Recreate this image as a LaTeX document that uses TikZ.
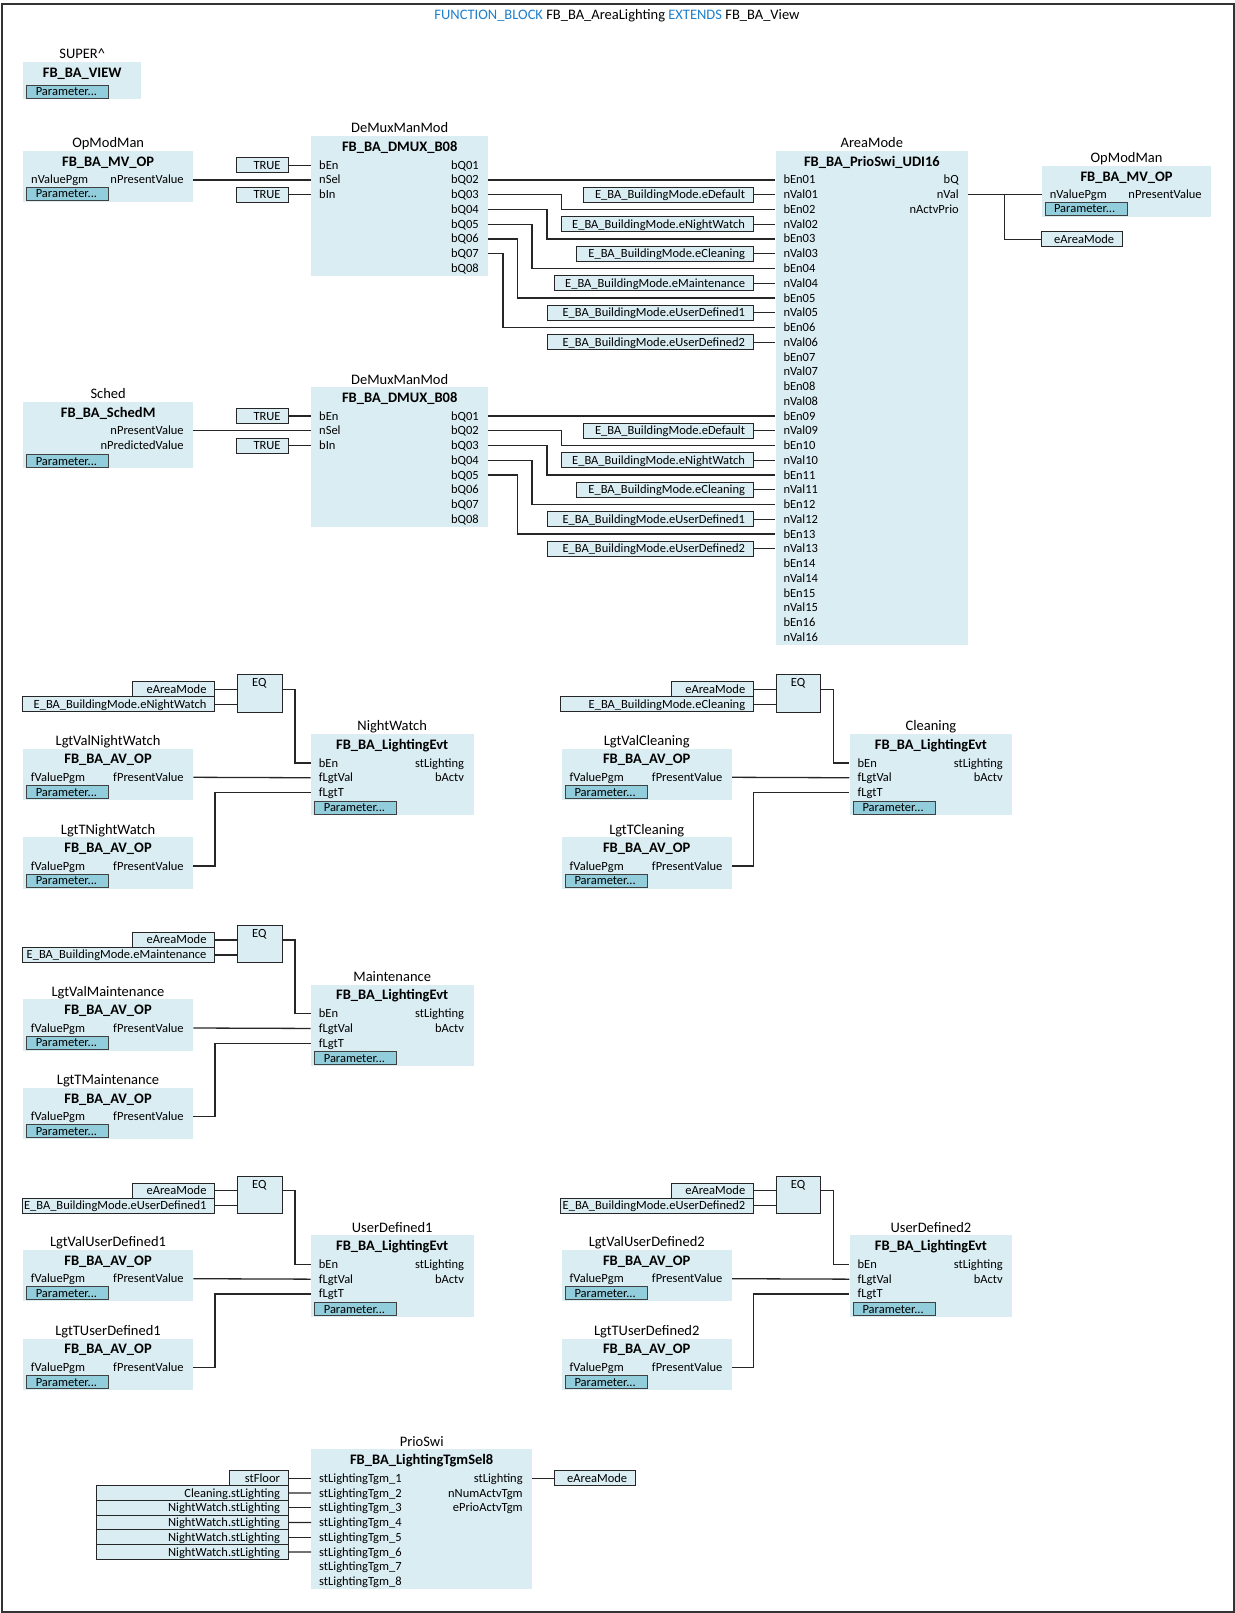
\documentclass[tikz,border=0pt]{standalone}
\usepackage{fontspec}
\setmainfont{Carlito}
\catcode`\_=12
\definecolor{fbfill}{HTML}{DAEDF3}
\definecolor{btnfill}{HTML}{92CDDC}
\definecolor{kwblue}{HTML}{1E7FCB}
\tikzstyle{annot}=[inner sep=0pt,text height=10pt,text depth=2pt,font=\fontsize{12.5}{14}\selectfont]
\tikzstyle{fbbox}=[rectangle,fill=fbfill,inner sep=0pt,anchor=north west]
\tikzstyle{fblabel}=[annot,text height=11pt,text depth=2pt,font=\fontsize{14.5}{16}\selectfont]
\tikzstyle{fbtype}=[fblabel,font=\fontsize{14.5}{16}\selectfont\bfseries]
\tikzstyle{pinl}=[annot,anchor=west,xshift=8pt]
\tikzstyle{pinr}=[annot,anchor=east,xshift=-9.5pt]
\tikzstyle{constbox}=[annot,rectangle,fill=fbfill,draw=black!85,line width=1pt,inner xsep=8pt,minimum height=15pt,anchor=east]
\tikzstyle{parambtn}=[annot,rectangle,fill=btnfill,draw=black!75,line width=1pt,minimum height=13pt,anchor=north west]
\tikzstyle{eqbox}=[rectangle,fill=fbfill,draw=black!85,line width=1pt,minimum width=44.7pt,minimum height=37.4pt,inner sep=0pt,anchor=north west]
\tikzstyle{wire}=[line width=1.3pt,draw=black!85]
\newcommand{\fbblock}[7]
{
  \node[fbbox, minimum width=#4, minimum height=#5](#1) at (#2,#3){};
  \node[fblabel](#1-label) at ([yshift=7.5pt]#1.north) {#6};
  \node[fbtype](#1-type) at ([yshift=-11pt]#1.north) {#7};
}
\newcommand{\constbox}[5]
{
  \node[constbox, minimum width=#4pt](#1) at (#2,#3){\makebox[\dimexpr #4pt-16pt\relax][r]{#5}};
}
\newcommand{\parambtn}[3]
{
  \node[parambtn](#1) at (#2,#3){\makebox[82pt][l]{\hspace{9pt}Parameter...}};
}
\newcommand{\pinsleft}[3]
{
  \foreach \lbl [count=\i from 0] in {#3}
    \node[pinl](#1-\lbl) at (#1.west |- 0,{#2+\i*14.75}) {\lbl};
}
\newcommand{\pinsright}[3]
{
  \foreach \lbl [count=\i from 0] in {#3}
    \node[pinr](#1-\lbl) at (#1.east |- 0,{#2+\i*14.75}) {\lbl};
}
% one EQ compare with its two set points and the event block behind it
\newcommand{\drawevtgroup}[3]
{
  \begin{scope}[shift={(#1,#2)}]
  \constbox{mode#3}{215}{689.2}{82}{eAreaMode}
  \constbox{enum#3}{215}{704.2}{192.5}{E_BA_BuildingMode.e#3}
  \node[eqbox](eq#3) at (237,674.3){};
  \node[annot](eqtype#3) at (259.4,682.7) {EQ};
  \fbblock{val#3}{22.7}{748.3}{170.3}{51.4}{LgtVal#3}{FB_BA_AV_OP}
  \pinsleft{val#3}{777.3}{fValuePgm}
  \pinsright{val#3}{777.3}{fPresentValue}
  \parambtn{valpar#3}{26.3}{785}
  \fbblock{time#3}{22.7}{837}{170.3}{51.4}{LgtT#3}{FB_BA_AV_OP}
  \pinsleft{time#3}{866}{fValuePgm}
  \pinsright{time#3}{866}{fPresentValue}
  \parambtn{timepar#3}{26.3}{873.7}
  \fbblock{evt#3}{310.7}{733.7}{162.6}{81.3}{#3}{FB_BA_LightingEvt}
  \pinsleft{evt#3}{763}{bEn,fLgtVal,fLgtT}
  \pinsright{evt#3}{763}{stLighting,bActv}
  \parambtn{evtpar#3}{314.3}{800.7}
  \draw[wire](mode#3.east) -- (eq#3.west |- mode#3);
  \draw[wire](enum#3.east) -- (eq#3.west |- enum#3);
  \draw[wire](eq#3.east |- mode#3) -| (295,0 |- evt#3-bEn) -- (evt#3.west |- evt#3-bEn);
  \draw[wire](val#3.east |- val#3-fPresentValue) -- (evt#3.west |- evt#3-fLgtVal);
  \draw[wire](time#3.east |- time#3-fPresentValue) -| (215,0 |- evt#3-fLgtT) -- (evt#3.west |- evt#3-fLgtT);
  \end{scope}
}

\begin{document}
\begin{tikzpicture}[x=1pt,y=-1pt]
	\useasboundingbox (0,0) rectangle (1234,1613);
	\node[rectangle,draw=black!80,line width=2pt,inner sep=0pt,minimum width=1231.3pt,minimum height=1608pt,anchor=north west](frame) at (1.2,3){};
	\node[fblabel](title) at (617,14.7) {{\color{kwblue}FUNCTION_BLOCK} FB_BA_AreaLighting {\color{kwblue}EXTENDS} FB_BA_View};

	\fbblock{super}{23}{62}{118}{37}{SUPER\^{}}{FB_BA_VIEW}
	\parambtn{superpar}{26.3}{84.7}

	\fbblock{opmodA}{23}{151}{170}{51}{OpModMan}{FB_BA_MV_OP}
	\pinsleft{opmodA}{180}{nValuePgm}
	\pinsright{opmodA}{180}{nPresentValue}
	\parambtn{opmodApar}{26.3}{187}

	\fbblock{sched}{23}{401.7}{170}{66.3}{Sched}{FB_BA_SchedM}
	\pinsright{sched}{430.75}{nPresentValue,nPredictedValue}
	\parambtn{schedpar}{26.3}{454}

	\fbblock{dmuxA}{311}{136}{177}{140}{DeMuxManMod}{FB_BA_DMUX_B08}
	\pinsleft{dmuxA}{165.25}{bEn,nSel,bIn}
	\pinsright{dmuxA}{165.25}{bQ01,bQ02,bQ03,bQ04,bQ05,bQ06,bQ07,bQ08}
	\constbox{trueA}{289}{165.25}{52}{TRUE}
	\constbox{inA}{289}{194.75}{52}{TRUE}

	\fbblock{dmuxB}{311}{387}{177}{140}{DeMuxManMod}{FB_BA_DMUX_B08}
	\pinsleft{dmuxB}{416}{bEn,nSel,bIn}
	\pinsright{dmuxB}{416}{bQ01,bQ02,bQ03,bQ04,bQ05,bQ06,bQ07,bQ08}
	\constbox{trueB}{289}{416}{52}{TRUE}
	\constbox{inB}{289}{445.5}{52}{TRUE}

	\fbblock{area}{775.3}{151}{192.7}{494}{AreaMode}{FB_BA_PrioSwi_UDI16}
	\pinsleft{area}{180}{bEn01,nVal01,bEn02,nVal02,bEn03,nVal03,bEn04,nVal04,bEn05,nVal05,bEn06,nVal06,bEn07,nVal07,bEn08,nVal08,bEn09,nVal09,bEn10,nVal10,bEn11,nVal11,bEn12,nVal12,bEn13,nVal13,bEn14,nVal14,bEn15,nVal15,bEn16,nVal16}
	\pinsright{area}{180}{bQ,nVal,nActvPrio}

	\constbox{defA}{753.5}{194.75}{170}{E_BA_BuildingMode.eDefault}
	\constbox{nightA}{753.5}{224.25}{192}{E_BA_BuildingMode.eNightWatch}
	\constbox{cleanA}{753.5}{253.75}{177}{E_BA_BuildingMode.eCleaning}
	\constbox{maintA}{753.5}{283.25}{199}{E_BA_BuildingMode.eMaintenance}
	\constbox{userA}{753.5}{312.75}{206}{E_BA_BuildingMode.eUserDefined1}
	\constbox{userB}{753.5}{342.25}{206}{E_BA_BuildingMode.eUserDefined2}
	\constbox{defB}{753.5}{430.75}{170}{E_BA_BuildingMode.eDefault}
	\constbox{nightB}{753.5}{460.25}{192}{E_BA_BuildingMode.eNightWatch}
	\constbox{cleanB}{753.5}{489.75}{177}{E_BA_BuildingMode.eCleaning}
	\constbox{userC}{753.5}{519.25}{206}{E_BA_BuildingMode.eUserDefined1}
	\constbox{userD}{753.5}{548.75}{206}{E_BA_BuildingMode.eUserDefined2}

	\fbblock{opmodB}{1041.7}{165.7}{169.3}{51.3}{OpModMan}{FB_BA_MV_OP}
	\pinsleft{opmodB}{194.75}{nValuePgm}
	\pinsright{opmodB}{194.75}{nPresentValue}
	\parambtn{opmodBpar}{1044.5}{202}
	\constbox{areaout}{1122.6}{239.2}{80.9}{eAreaMode}

	% wires of the two demultiplexers
	\draw[wire](trueA.east) -- (dmuxA.west |- trueA);
	\draw[wire](inA.east) -- (dmuxA.west |- inA);
	\draw[wire](opmodA.east |- opmodA-nPresentValue) -- (dmuxA.west |- dmuxA-nSel);
	\draw[wire](dmuxA.east |- dmuxA-bQ02) -- (area.west |- area-bEn01);
	\foreach \qq/\en/\xx in {bQ03/bEn02/561.5,bQ04/bEn03/547,bQ05/bEn04/532,bQ06/bEn05/517.5,bQ07/bEn06/503}
		\draw[wire](dmuxA.east |- dmuxA-\qq) -| (\xx,0 |- area-\en) -- (area.west |- area-\en);
	\draw[wire](trueB.east) -- (dmuxB.west |- trueB);
	\draw[wire](inB.east) -- (dmuxB.west |- inB);
	\draw[wire](sched.east |- sched-nPresentValue) -- (dmuxB.west |- dmuxB-nSel);
	\draw[wire](dmuxB.east |- dmuxB-bQ01) -- (area.west |- area-bEn09);
	\foreach \qq/\en/\xx in {bQ02/bEn10/561.5,bQ03/bEn11/547,bQ04/bEn12/532,bQ05/bEn13/517.5}
		\draw[wire](dmuxB.east |- dmuxB-\qq) -| (\xx,0 |- area-\en) -- (area.west |- area-\en);
	\foreach \cc/\vv in {defA/nVal01,nightA/nVal02,cleanA/nVal03,maintA/nVal04,userA/nVal05,userB/nVal06,defB/nVal09,nightB/nVal10,cleanB/nVal11,userC/nVal12,userD/nVal13}
		\draw[wire](\cc.east) -- (area.west |- area-\vv);
	\draw[wire](area.east |- area-nVal) -- (opmodB.west |- opmodB-nValuePgm);
	\draw[wire](1004.7,0 |- area-nVal) |- (areaout.west);

	\drawevtgroup{0}{0}{NightWatch}
	\drawevtgroup{538.7}{0}{Cleaning}
	\drawevtgroup{0}{250.7}{Maintenance}
	\drawevtgroup{0}{501.4}{UserDefined1}
	\drawevtgroup{538.7}{501.4}{UserDefined2}

	\fbblock{prio}{311}{1449}{221}{140}{PrioSwi}{FB_BA_LightingTgmSel8}
	\pinsleft{prio}{1478.3}{stLightingTgm_1,stLightingTgm_2,stLightingTgm_3,stLightingTgm_4,stLightingTgm_5,stLightingTgm_6,stLightingTgm_7,stLightingTgm_8}
	\pinsright{prio}{1478.3}{stLighting,nNumActvTgm,ePrioActvTgm}
	\constbox{floorin}{288.5}{1478.3}{59}{stFloor}
	\constbox{cleanin}{288.5}{1493}{191.5}{Cleaning.stLighting}
	\constbox{nightinA}{288.5}{1507.8}{191.5}{NightWatch.stLighting}
	\constbox{nightinB}{288.5}{1522.5}{191.5}{NightWatch.stLighting}
	\constbox{nightinC}{288.5}{1537.3}{191.5}{NightWatch.stLighting}
	\constbox{nightinD}{288.5}{1552}{191.5}{NightWatch.stLighting}
	\constbox{prioout}{635.6}{1478.3}{81}{eAreaMode}
	\foreach \cc/\pp in {floorin/1,cleanin/2,nightinA/3,nightinB/4,nightinC/5,nightinD/6}
		\draw[wire](\cc.east) -- (prio.west |- prio-stLightingTgm_\pp);
	\draw[wire](prio.east |- prio-stLighting) -- (prioout.west);
\end{tikzpicture}
\end{document}
